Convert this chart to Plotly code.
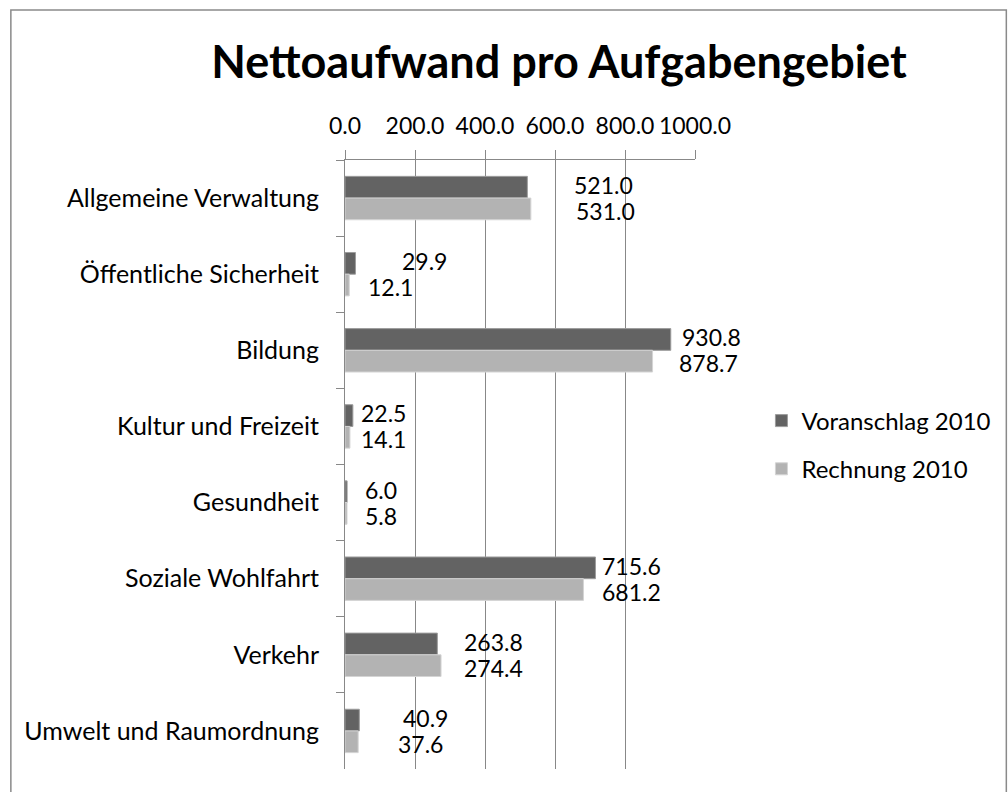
import plotly.graph_objects as go

categories = [
    "Allgemeine Verwaltung",
    "Öffentliche Sicherheit",
    "Bildung",
    "Kultur und Freizeit",
    "Gesundheit",
    "Soziale Wohlfahrt",
    "Verkehr",
    "Umwelt und Raumordnung",
]
voranschlag_2010 = [521.0, 29.9, 930.8, 22.5, 6.0, 715.6, 263.8, 40.9]
rechnung_2010 = [531.0, 12.1, 878.7, 14.1, 5.8, 681.2, 274.4, 37.6]
series_names = ["Voranschlag 2010", "Rechnung 2010"]
x_ticks = [0, 200, 400, 600, 800, 1000]

# label placement offsets (pixels to the right of bar end), as placed in the original
shift_voranschlag = [45, 45, 9, 6, 16, 5, 25, 42]
shift_rechnung = [43, 17, 24, 9, 16, 17, 21, 38]

FONT = "Lato, Calibri, Carlito, sans-serif"
DARK = "#636363"
LIGHT = "#b3b3b3"
GRID = "#888888"
NUM_SIZE = 23
TXT_SIZE = 25

fig = go.Figure()
fig.add_trace(go.Bar(
    y=categories, x=voranschlag_2010, name=series_names[0], orientation="h",
    marker=dict(color=DARK, line=dict(color="#9c9c9c", width=1)),
    legendgroup="a",
))
fig.add_trace(go.Bar(
    y=categories, x=rechnung_2010, name=series_names[1], orientation="h",
    marker=dict(color=LIGHT, line=dict(color="#d4d4d4", width=1)),
    legendgroup="b",
))

annotations = []
for cat, v, s in zip(categories, voranschlag_2010, shift_voranschlag):
    annotations.append(dict(x=v, y=cat, xref="x", yref="y", text=f"{v:.1f}",
                            showarrow=False, xanchor="left", yanchor="middle",
                            xshift=s, yshift=13,
                            font=dict(family=FONT, size=NUM_SIZE, color="black")))
for cat, v, s in zip(categories, rechnung_2010, shift_rechnung):
    annotations.append(dict(x=v, y=cat, xref="x", yref="y", text=f"{v:.1f}",
                            showarrow=False, xanchor="left", yanchor="middle",
                            xshift=s, yshift=-13,
                            font=dict(family=FONT, size=NUM_SIZE, color="black")))

W, H = 1008, 792
L, R, T, B = 345, 310, 160, 23
pw, ph = W - L - R, H - T - B

def px2paper_x(px):
    return (px - L) / pw

def px2paper_y(py):
    return (H - B - py) / ph

fig.update_layout(
    width=W, height=H,
    margin=dict(l=L, r=R, t=T, b=B, pad=0),
    paper_bgcolor="white", plot_bgcolor="white",
    barmode="group", bargap=0.43, bargroupgap=0,
    font=dict(family=FONT, size=TXT_SIZE, color="black"),
    title=dict(text="<b>Nettoaufwand pro Aufgabengebiet</b>",
               font=dict(family=FONT, size=45, color="black"),
               x=559 / W, xanchor="center", xref="container",
               y=1 - 62 / H, yanchor="middle", yref="container"),
    xaxis=dict(side="top", range=[0, 1000], tickvals=x_ticks,
               ticktext=[f"{t:.1f}" for t in x_ticks],
               showgrid=True, gridcolor=GRID, gridwidth=1,
               showline=True, linecolor=GRID, linewidth=1,
               ticks="outside", ticklen=9, tickcolor=GRID,
               zeroline=False, fixedrange=True,
               ticklabelstandoff=7,
               tickfont=dict(family=FONT, size=NUM_SIZE)),
    yaxis=dict(autorange="reversed", type="category",
               showline=True, linecolor=GRID, linewidth=1,
               ticks="outside", ticklen=8, tickcolor=GRID,
               tickson="boundaries", showgrid=False,
               ticklabelstandoff=20, fixedrange=True,
               tickfont=dict(family=FONT, size=TXT_SIZE)),
    legend=dict(x=px2paper_x(765), xanchor="left", y=px2paper_y(445), yanchor="middle",
                traceorder="grouped", tracegroupgap=14,
                font=dict(family=FONT, size=24), bgcolor="rgba(0,0,0,0)"),
    annotations=annotations,
    shapes=[dict(type="rect", xref="paper", yref="paper",
                 x0=px2paper_x(8), x1=px2paper_x(1012),
                 y0=px2paper_y(800), y1=px2paper_y(10),
                 line=dict(color="#8a8a8a", width=1.5), fillcolor="rgba(0,0,0,0)",
                 layer="below")],
)

fig.write_html("out.html", config={"displayModeBar": False},
               post_script="document.body.style.margin='0px';document.body.style.overflow='hidden';")
